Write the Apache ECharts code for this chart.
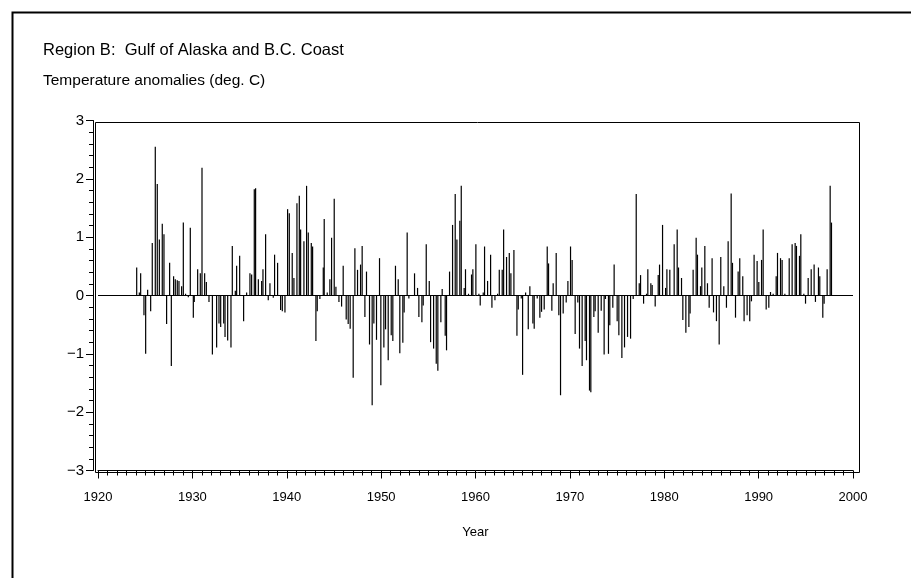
<!DOCTYPE html>
<html>
<head>
<meta charset="utf-8">
<script src="https://cdn.jsdelivr.net/npm/echarts@6/dist/echarts.min.js"></script>
<style>html,body{margin:0;padding:0;background:#fff}#c{width:911px;height:578px}</style>
</head>
<body>
<div id="c"></div>
<script>
const titleText = 'Region B:  Gulf of Alaska and B.C. Coast';
const subtitleText = 'Temperature anomalies (deg. C)';
const xAxisName = 'Year';
const yTickLabels = {'3':'3','2':'2','1':'1','0':'0','-1':'\u22121','-2':'\u22122','-3':'\u22123'};

const years = [
1924.10,1924.38,1924.52,1924.87,1925.05,1925.26,1925.58,1925.75,1926.07,1926.28,1926.50,1926.81,1926.99,1927.27,1927.59,1927.77,1928.01,1928.19,1928.40,1928.58,1928.86,1929.04,1929.28,1929.57,1929.78,
1930.10,1930.20,1930.56,1930.84,1931.02,1931.30,1931.48,1931.76,1932.12,1932.57,1932.82,1933.00,1933.32,1933.46,1933.74,1934.09,1934.23,1934.55,1934.69,1935.01,1935.43,1935.75,1936.10,1936.28,1936.56,1936.70,1936.99,1937.34,1937.48,1937.76,1938.04,1938.22,1938.57,1938.71,1939.03,1939.35,1939.53,1939.81,
1940.09,1940.27,1940.58,1940.76,1941.08,1941.33,1941.47,1941.82,1942.10,1942.28,1942.60,1942.74,1943.09,1943.23,1943.51,1943.87,1943.97,1944.29,1944.57,1944.75,1945.03,1945.21,1945.53,1945.81,1945.98,1946.30,1946.51,1946.72,1947.04,1947.22,1947.50,1947.82,1947.99,1948.28,1948.45,1948.77,1949.05,1949.23,1949.51,1949.83,1949.97,
1950.29,1950.47,1950.75,1951.07,1951.24,1951.52,1951.81,1951.98,1952.30,1952.44,1952.76,1952.94,1953.54,1953.86,1954.00,1954.32,1954.46,1954.78,1955.10,1955.24,1955.56,1955.84,1956.01,1956.33,1956.47,1956.79,1956.93,1957.25,1957.57,1957.85,1958.03,1958.34,1958.49,1958.80,1958.94,1959.26,1959.58,1959.72,
1960.04,1960.36,1960.50,1960.82,1960.96,1961.28,1961.60,1961.74,1962.06,1962.34,1962.52,1962.83,1962.98,1963.29,1963.58,1963.75,1964.07,1964.39,1964.53,1964.85,1964.99,1965.31,1965.59,1965.76,1966.08,1966.22,1966.54,1966.82,1967.00,1967.28,1967.60,1967.74,1968.09,1968.23,1968.55,1968.83,1969.01,1969.29,1969.61,1969.79,
1970.07,1970.24,1970.56,1970.84,1971.02,1971.30,1971.62,1971.76,1972.08,1972.22,1972.54,1972.68,1973.00,1973.32,1973.63,1973.77,1974.09,1974.23,1974.55,1974.69,1975.01,1975.19,1975.51,1975.79,1976.11,1976.43,1976.71,1977.03,1977.35,1977.49,1977.81,1978.12,1978.26,1978.58,1978.72,1979.04,1979.36,1979.50,1979.82,
1980.14,1980.28,1980.59,1981.05,1981.37,1981.51,1981.83,1981.97,1982.29,1982.61,1982.74,1983.06,1983.38,1983.52,1983.84,1983.98,1984.30,1984.58,1984.76,1985.07,1985.22,1985.53,1985.82,1985.99,1986.31,1986.59,1986.77,1987.09,1987.23,1987.55,1987.83,1988.00,1988.32,1988.46,1988.78,1989.06,1989.24,1989.52,1989.84,
1990.02,1990.31,1990.48,1990.80,1991.08,1991.26,1991.54,1991.86,1992.00,1992.32,1992.49,1992.78,1993.24,1993.55,1993.87,1994.01,1994.33,1994.47,1994.79,1994.97,1995.25,1995.57,1995.88,1996.02,1996.34,1996.48,1996.80,1996.94,1997.26,1997.58,1997.72
];
const anomalies = [
0.48,0.05,0.38,-0.34,-1.0,0.10,-0.27,0.9,2.55,1.91,0.96,1.23,1.05,-0.49,0.56,-1.21,0.33,0.28,0.26,0.25,0.16,1.25,0.03,-0.03,1.16,
-0.38,-0.11,0.45,0.38,2.19,0.38,0.23,-0.11,-1.01,-0.89,-0.48,-0.54,-0.48,-0.71,-0.77,-0.89,0.85,0.08,0.51,0.68,-0.44,0.05,0.38,0.36,1.82,1.84,0.28,0.25,0.45,1.05,-0.08,0.21,-0.04,0.7,0.56,-0.25,-0.27,-0.29,
1.48,1.41,0.73,0.3,1.58,1.71,1.13,0.93,1.88,1.08,0.9,0.84,-0.78,-0.27,-0.06,0.48,1.31,0.05,0.28,0.99,1.66,0.15,-0.11,-0.19,0.51,-0.41,-0.49,-0.57,-1.41,0.81,0.44,0.53,0.85,-0.37,0.41,-0.84,-1.88,-0.48,-0.76,0.64,-1.54,
-0.89,-0.58,-1.11,-0.68,-0.78,0.51,0.28,-0.99,-0.81,-0.29,1.08,-0.05,0.38,0.13,-0.37,-0.46,-0.17,0.88,0.25,-0.8,-0.91,-1.17,-1.29,-0.46,0.11,-0.69,-0.94,0.41,1.21,1.74,0.96,1.28,1.88,0.13,0.45,0.03,0.36,0.45,
0.88,0.03,-0.17,0.05,0.84,0.25,0.7,-0.21,-0.08,0.03,0.44,0.44,1.13,0.66,0.73,0.38,0.78,-0.69,-0.24,-0.05,-1.36,0.05,-0.58,0.16,-0.48,-0.57,-0.05,-0.38,-0.28,-0.24,0.84,0.55,-0.26,0.21,0.73,-0.34,-1.71,-0.31,-0.12,0.25,
0.84,0.61,-0.66,-0.12,-0.91,-1.21,-0.78,-1.11,-1.63,-1.66,-0.37,-0.27,-0.64,-0.26,-1.01,-0.06,-1.0,-0.51,-0.21,0.53,-0.44,-0.68,-1.07,-0.89,-0.71,-0.74,-0.06,1.74,0.21,0.35,-0.14,0.03,0.45,0.21,0.18,-0.19,0.35,0.53,1.21,
0.13,0.45,0.44,0.88,1.13,0.48,0.3,-0.42,-0.64,-0.54,-0.31,0.44,0.99,0.7,0.16,0.48,0.85,0.21,-0.21,0.64,-0.29,-0.44,-0.84,0.66,0.16,-0.21,0.93,1.75,0.56,-0.38,0.41,0.64,0.33,-0.44,-0.34,-0.44,-0.1,0.7,0.59,
0.23,0.61,1.13,-0.24,-0.21,0.06,0.03,0.33,0.73,0.64,0.61,0.03,0.64,0.88,0.9,0.85,0.68,1.05,0.03,-0.14,0.3,0.45,0.53,-0.11,0.48,0.33,-0.38,-0.14,0.45,1.88,1.25
];
const zeroLineYears = [1920, 2000];

const chart = echarts.init(document.getElementById('c'), null, {renderer: 'canvas'});
const font = 'Liberation Sans, Arial, Helvetica, sans-serif';
chart.setOption({
  animation: false,
  backgroundColor: '#fff',
  title: [
    {text: titleText, left: 38, top: 37, textStyle: {fontFamily: font, fontSize: 16.5, fontWeight: 'normal', color: '#000'}},
    {text: subtitleText, left: 38, top: 68, textStyle: {fontFamily: font, fontSize: 15.5, fontWeight: 'normal', color: '#000'}}
  ],
  graphic: [
    {type: 'rect', left: 10, top: 10, shape: {width: 1000, height: 1000}, style: {fill: null, stroke: '#000', lineWidth: 2}, silent: true},
    {type: 'rect', left: 93, top: 120, shape: {width: 764, height: 350}, style: {fill: null, stroke: '#000', lineWidth: 1}, silent: true, z: 100}
  ],
  grid: {left: 98, right: 58, top: 120.5, bottom: 107.5, show: false},
  xAxis: {
    type: 'value', min: 1920, max: 2000, interval: 10,
    name: xAxisName, nameLocation: 'middle', nameGap: 55,
    nameTextStyle: {fontFamily: font, fontSize: 13, color: '#000'},
    axisLine: {show: true, onZero: false, lineStyle: {color: '#000', width: 1}},
    axisTick: {show: true, inside: false, length: 8, lineStyle: {color: '#000'}},
    minorTick: {show: true, splitNumber: 10, length: 5, lineStyle: {color: '#000'}},
    axisLabel: {fontFamily: font, fontSize: 13, color: '#000', margin: 20, formatter: v => String(v)},
    splitLine: {show: false}
  },
  yAxis: {
    type: 'value', min: -3, max: 3, interval: 1, offset: 5,
    axisLine: {show: true, lineStyle: {color: '#000', width: 1}},
    axisTick: {show: true, inside: false, length: 7, lineStyle: {color: '#000'}},
    minorTick: {show: true, splitNumber: 5, length: 4, lineStyle: {color: '#000'}},
    axisLabel: {fontFamily: font, fontSize: 15, color: '#000', margin: 9, formatter: v => yTickLabels[String(v)]},
    splitLine: {show: false}
  },
  series: [
    {
      type: 'line', data: zeroLineYears.map(y => [y, 0]), symbol: 'none',
      lineStyle: {color: '#000', width: 1}, silent: true, z: 1
    },
    {
      type: 'bar', data: years.map((y, i) => [y, anomalies[i]]),
      barWidth: 1.2, itemStyle: {color: '#000'}, silent: true, z: 2
    }
  ]
});
</script>
</body>
</html>
